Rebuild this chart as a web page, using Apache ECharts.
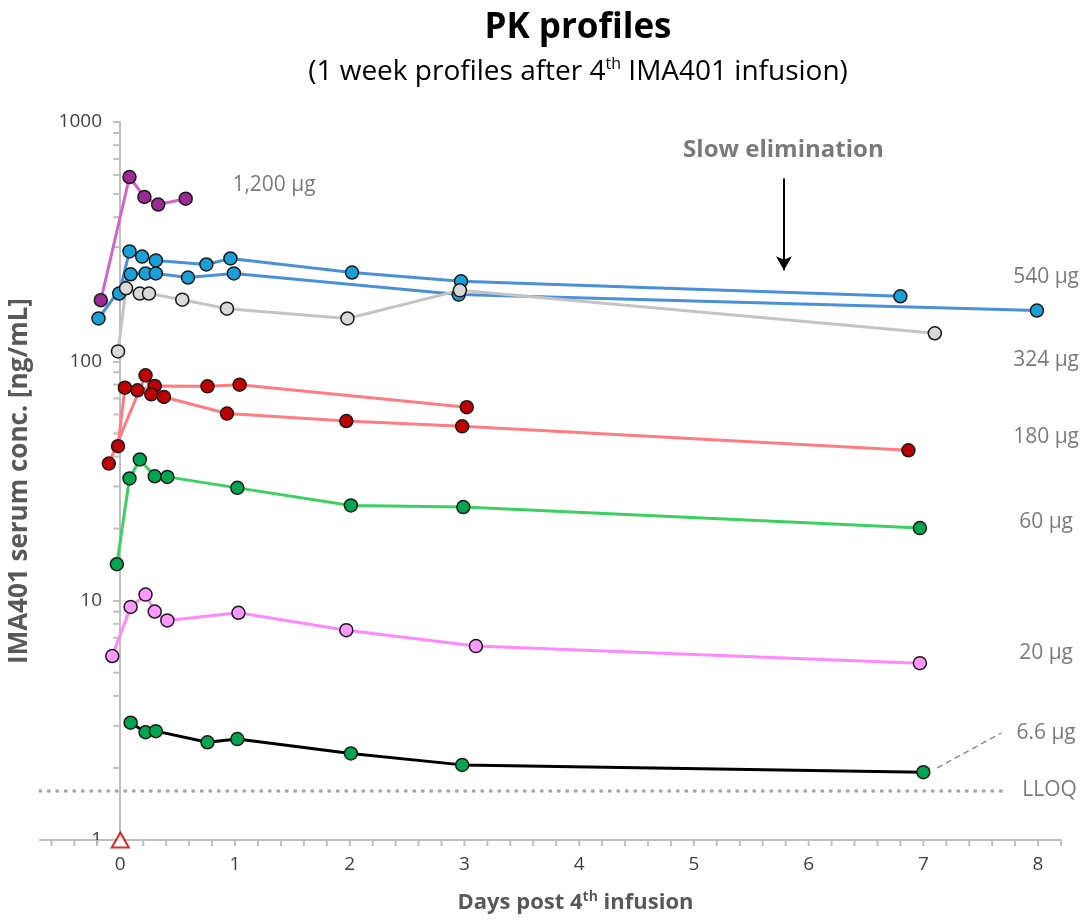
<!DOCTYPE html>
<html>
<head>
<meta charset="utf-8">
<title>PK profiles</title>
<script src="https://cdn.jsdelivr.net/npm/echarts@6/dist/echarts.min.js"></script>
<style>
  html, body { margin: 0; padding: 0; background: #fff; }
  #main { width: 1087px; height: 920px; }
</style>
</head>
<body>
<div id="main"></div>
<script>
// days post 4th infusion / serum conc. [ng/mL]
var days_1200 = [-0.17, 0.08, 0.21, 0.33, 0.57];
var conc_1200 = [180, 589, 486, 452, 478];

var days_540a = [-0.01, 0.08, 0.19, 0.31, 0.75, 0.96, 2.02, 2.97, 6.80];
var conc_540a = [192, 288, 274, 264, 254, 269, 235, 216, 187];
var days_540b = [-0.19, 0.09, 0.22, 0.31, 0.59, 0.99, 2.95, 7.99];
var conc_540b = [151, 231, 233, 233, 224, 233, 190, 163];

var days_324 = [-0.02, 0.05, 0.17, 0.25, 0.54, 0.93, 1.98, 2.96, 7.10];
var conc_324 = [110, 202, 192, 192, 181, 166, 151, 198, 131];

var days_180a = [-0.02, 0.04, 0.15, 0.30, 0.76, 1.04, 3.02];
var conc_180a = [44.2, 77.6, 75.7, 78.9, 78.6, 79.9, 64.3];
var days_180b = [-0.10, 0.22, 0.27, 0.38, 0.93, 1.97, 2.98, 6.87];
var conc_180b = [37.4, 87.4, 72.8, 71.0, 60.5, 56.3, 53.5, 42.5];

var days_60 = [-0.03, 0.08, 0.17, 0.30, 0.41, 1.02, 2.01, 2.99, 6.97];
var conc_60 = [14.2, 32.4, 38.9, 33.1, 32.9, 29.6, 25.0, 24.6, 20.1];

var days_20 = [-0.07, 0.09, 0.22, 0.30, 0.41, 1.03, 1.97, 3.10, 6.97];
var conc_20 = [5.87, 9.42, 10.6, 9.01, 8.27, 8.90, 7.53, 6.46, 5.48];

var days_6_6 = [0.09, 0.22, 0.31, 0.76, 1.02, 2.01, 2.98, 7.00];
var conc_6_6 = [3.09, 2.82, 2.85, 2.56, 2.64, 2.30, 2.06, 1.92];

var lloq = 1.6;
var doseLabels = ['1,200 µg', '540 µg', '324 µg', '180 µg', '60 µg', '20 µg', '6.6 µg', 'LLOQ'];
var yTickLabels = [1, 10, 100, 1000];
var xTickLabels = [0, 1, 2, 3, 4, 5, 6, 7, 8];

var FONT = '"Open Sans", Lato, sans-serif';
var AXIS_GREY = '#bfbfbf';
var TEXT_GREY = '#595959';

function pts(xs, ys) {
    var out = [];
    for (var i = 0; i < xs.length; i++) out.push([xs[i], ys[i]]);
    return out;
}

function profile(name, xs, ys, lineColor, dotColor) {
    return {
        name: name,
        type: 'line',
        data: pts(xs, ys),
        symbol: 'circle',
        symbolSize: 13,
        showSymbol: true,
        clip: false,
        lineStyle: { color: lineColor, width: 3 },
        itemStyle: { color: dotColor, borderColor: '#1a1a1a', borderWidth: 1.5 },
        z: 3
    };
}

// minor ticks: every 0.2 day on x, 2..9 per decade on y
var xMinor = [];
for (var t = -3; t <= 41; t++) xMinor.push([+(t * 0.2).toFixed(1), 1]);
var yMinor = [];
[1, 10, 100].forEach(function (d) {
    for (var k = 2; k <= 9; k++) yMinor.push([0, k * d]);
});

var chart = echarts.init(document.getElementById('main'));

var option = {
    animation: false,
    backgroundColor: '#fff',
    textStyle: { fontFamily: FONT },
    grid: { left: 40, right: 26, top: 122, bottom: 80, outerBoundsMode: 'none', containLabel: false },
    graphic: [
        {
            type: 'text', x: 578, y: 28,
            style: { text: 'PK profiles', x: 0, y: 0, align: 'center', verticalAlign: 'middle',
                fontFamily: FONT, fontWeight: 'bold', fontSize: 35, fill: '#000' }
        },
        {
            type: 'text', x: 578, y: 72,
            style: {
                text: '(1 week profiles after 4{sup|th} IMA401 infusion)',
                x: 0, y: 0, align: 'center', verticalAlign: 'middle',
                fontFamily: FONT, fontSize: 28, fill: '#000', lineHeight: 32,
                rich: { sup: { fontFamily: FONT, fontSize: 16, verticalAlign: 'top', lineHeight: 32, fill: '#000' } }
            }
        }
    ],
    xAxis: {
        type: 'value',
        min: -0.7,
        max: 8.2,
        interval: 0.1,
        name: 'Days post 4{sup|th} infusion',
        nameLocation: 'middle',
        nameGap: 50,
        nameTextStyle: {
            fontFamily: FONT, fontWeight: 'bold', fontSize: 22, color: TEXT_GREY,
            padding: [0, 0, 0, 50], lineHeight: 26,
            rich: { sup: { fontFamily: FONT, fontWeight: 'bold', fontSize: 14, color: TEXT_GREY, verticalAlign: 'top', lineHeight: 26 } }
        },
        axisLine: { lineStyle: { color: AXIS_GREY, width: 2 } },
        axisTick: { show: false },
        splitLine: { show: false },
        axisLabel: {
            margin: 15,
            fontSize: 19,
            color: '#404040',
            fontFamily: FONT,
            formatter: function (v) {
                var r = Math.round(v);
                return (Math.abs(v - r) < 1e-6 && xTickLabels.indexOf(r) >= 0) ? String(r) : '';
            }
        }
    },
    yAxis: {
        type: 'log',
        logBase: 10,
        min: 1,
        max: 1000,
        splitNumber: 3,
        offset: -80,
        name: 'IMA401 serum conc. [ng/mL]',
        nameLocation: 'middle',
        nameGap: 87,
        nameTextStyle: { fontFamily: FONT, fontWeight: 'bold', fontSize: 26, color: TEXT_GREY },
        axisLine: { onZero: false, lineStyle: { color: AXIS_GREY, width: 2 } },
        axisTick: { show: true, length: 7, lineStyle: { color: AXIS_GREY, width: 2 } },
        splitLine: { show: false },
        axisLabel: {
            margin: 18,
            fontSize: 19,
            color: '#404040',
            fontFamily: FONT,
            formatter: function (v) {
                var r = Math.round(v);
                return yTickLabels.indexOf(r) >= 0 ? String(r) : '';
            }
        }
    },
    series: [
        {
            type: 'custom',
            silent: true,
            clip: false,
            data: xMinor,
            renderItem: function (params, api) {
                var p = api.coord([api.value(0), api.value(1)]);
                return { type: 'line', shape: { x1: p[0], y1: p[1], x2: p[0], y2: p[1] + 6 },
                    style: { stroke: AXIS_GREY, lineWidth: 2 } };
            },
            z: 1
        },
        {
            type: 'custom',
            silent: true,
            clip: false,
            data: yMinor,
            renderItem: function (params, api) {
                var p = api.coord([api.value(0), api.value(1)]);
                return { type: 'line', shape: { x1: p[0] - 7, y1: p[1], x2: p[0], y2: p[1] },
                    style: { stroke: AXIS_GREY, lineWidth: 2 } };
            },
            z: 1
        },
        // annotations: dose labels, LLOQ line, leader line, arrow
        {
            type: 'scatter',
            silent: true,
            symbolSize: 0,
            clip: false,
            label: { show: true, position: 'inside', formatter: '{b}', color: TEXT_GREY,
                fontFamily: FONT, fontSize: 21 },
            data: [
                { name: doseLabels[0], value: [1.34, 543] },
                { name: doseLabels[1], value: [8.07, 224] },
                { name: doseLabels[2], value: [8.07, 101] },
                { name: doseLabels[3], value: [8.07, 48.2] },
                { name: doseLabels[4], value: [8.07, 21.3] },
                { name: doseLabels[5], value: [8.07, 6.04] },
                { name: doseLabels[6], value: [8.07, 2.80] },
                { name: doseLabels[7], value: [8.1, 1.62] },
                { name: 'Slow elimination', value: [5.78, 760],
                  label: { fontWeight: 'bold', fontSize: 24, color: TEXT_GREY } }
            ],
            markLine: {
                silent: true,
                symbol: 'none',
                label: { show: false },
                data: [
                    [{ coord: [-0.7, lloq], lineStyle: { color: '#a6a6a6', width: 3.5, type: [0.5, 8], cap: 'round' } },
                     { coord: [7.7, lloq] }],
                    [{ coord: [7.12, 2.0], lineStyle: { color: '#7f7f7f', width: 1.3, type: [6, 4] } },
                     { coord: [7.68, 2.8] }],
                    [{ coord: [5.785, 581], symbol: 'none', lineStyle: { color: '#000', width: 2, type: 'solid' } },
                     { coord: [5.785, 240], symbol: 'arrow', symbolSize: [12, 14] }]
                ]
            },
            z: 2
        },
        profile('1,200 µg', days_1200, conc_1200, '#d264c8', '#9c2a94'),
        profile('540 µg a', days_540a, conc_540a, '#4a90d9', '#1aa0d8'),
        profile('540 µg b', days_540b, conc_540b, '#4a90d9', '#1aa0d8'),
        profile('324 µg', days_324, conc_324, '#c4c4c4', '#d9d9d9'),
        profile('180 µg a', days_180a, conc_180a, '#ff7c80', '#c00000'),
        profile('180 µg b', days_180b, conc_180b, '#ff7c80', '#c00000'),
        profile('60 µg', days_60, conc_60, '#3cd060', '#00a550'),
        profile('20 µg', days_20, conc_20, '#ff88ff', '#ff99ff'),
        profile('6.6 µg', days_6_6, conc_6_6, '#000000', '#00a550'),
        {
            type: 'scatter',
            silent: true,
            clip: false,
            symbol: 'triangle',
            symbolSize: [17, 15],
            itemStyle: { color: '#fff', borderColor: '#c00000', borderWidth: 2 },
            data: [[0, 1]],
            z: 5
        }
    ]
};

chart.setOption(option);
</script>
</body>
</html>
